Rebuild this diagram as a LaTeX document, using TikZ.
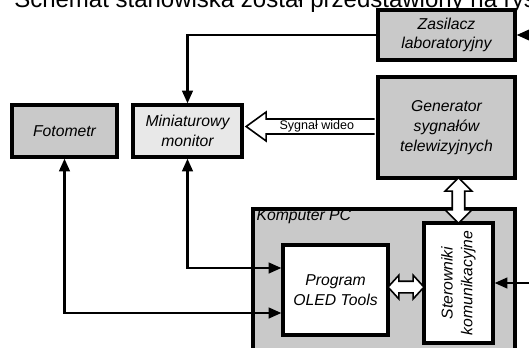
\documentclass[tikz,border=0pt]{standalone}
\usepackage{fontspec}
\setmainfont{Liberation Sans}
\usetikzlibrary{shapes.arrows,arrows.meta,calc,positioning}
\definecolor{blok}{gray}{0.79}
\definecolor{jasny}{gray}{0.91}

\begin{document}
\begin{tikzpicture}[x=0.75pt,y=-0.75pt,
	box/.style={
		draw,
		line width=2.5pt,
		fill=blok,
		inner sep=0pt,
		align=center,
		font=\fontsize{11.8}{14.8}\selectfont\itshape
	},
	conn/.style={
		line width=1.6pt,
		-{Triangle[length=9.5pt,width=8pt]}
	},
	hollow/.style={
		draw,
		fill=white,
		line width=1.2pt
	}
	]
	\useasboundingbox (0,0) rectangle (529,347);
	\clip (0,0) rectangle (529,347);

	\node[anchor=base west,inner sep=0pt,font=\fontsize{18}{20}\selectfont] (tytul) at (14,7)
	{Schemat stanowiska został przedstawiony na rysunku};

	\node[box,minimum width=102.75pt,minimum height=37.5pt] (zas) at (446.5,35)
	{Zasilacz\\laboratoryjny};
	\node[box,minimum width=102.75pt,minimum height=75.75pt] (gen) at (446.5,127.5)
	{Generator\\sygnałów\\telewizyjnych};
	\node[box,minimum width=78.75pt,minimum height=39pt] (foto) at (64.5,131)
	{Fotometr};
	\node[box,fill=jasny,minimum width=81.75pt,minimum height=39pt] (mon) at (187.5,131)
	{Miniaturowy\\monitor};

	\node[box,minimum width=196.5pt,minimum height=120pt] (komp) at (384,289) {};
	\node[anchor=base west,inner sep=0pt,font=\fontsize{11.8}{14.8}\selectfont\itshape] (komplbl)
	at ($(komp.north west)+(5,13)$) {Komputer PC};
	\node[box,fill=white,minimum width=78.75pt,minimum height=67.5pt] (prog) at (335.5,290)
	{Program\\OLED Tools};
	\node[box,fill=white,minimum width=51.75pt,minimum height=90pt] (ster) at (458.5,283) {};
	\node[rotate=90,align=center,inner sep=0pt,font=\fontsize{11.8}{14.8}\selectfont\itshape] (sterlbl)
	at (ster.center) {Sterowniki\\komunikacyjne};

	\coordinate (wtip) at ($(mon.east)+(2.5,-4.5)$);
	\coordinate (wtail) at ($(gen.west |- wtip)+(-1.6,0)$);
	\path[hollow,draw=none] ($(wtail)+(0,-7.5)$) -- ($(wtip)+(20,-7.5)$) -- ($(wtip)+(20,-14.5)$)
		-- (wtip) -- ($(wtip)+(20,14.5)$) -- ($(wtip)+(20,7.5)$) -- ($(wtail)+(0,7.5)$) -- cycle;
	\draw[line width=1.2pt,line join=miter] ($(wtail)+(0,-7.5)$) -- ($(wtip)+(20,-7.5)$) -- ($(wtip)+(20,-14.5)$)
		-- (wtip) -- ($(wtip)+(20,14.5)$) -- ($(wtip)+(20,7.5)$) -- ($(wtail)+(0,7.5)$);
	\node[inner sep=0pt,font=\fontsize{9.4}{11}\selectfont] (wideo)
	at ($(wtip)!0.55!(wtail)$) {Sygnał wideo};

	\node[hollow,double arrow,shape border rotate=90,inner sep=4.1pt,
		double arrow head extend=5.25pt,double arrow tip angle=90,
		minimum height=34pt] (genster)
	at ($(ster.north)!0.5!(ster.north|-gen.south)$) {};
	\node[hollow,double arrow,inner sep=3.8pt,
		double arrow head extend=4.5pt,double arrow tip angle=95,
		minimum height=27pt,yshift=2.2pt] (progster)
	at ($(prog.east)!0.5!(prog.east-|ster.west)$) {};

	\coordinate (zasin) at (545,35);
	\coordinate (sterin) at (545,283);
	\coordinate (progin1) at ($(prog.west)+(0,-22)$);
	\coordinate (progin2) at ($(prog.west)+(0,23)$);

	\draw[conn] (zasin) -- (zas.east);
	\draw[conn] (sterin) -- (ster.east);
	\draw[conn] (zas.west) -| (mon.north);
	\draw[conn,{Triangle[length=9.5pt,width=8pt]}-{Triangle[length=9.5pt,width=8pt]}] (mon.south) |- (progin1);
	\draw[conn,{Triangle[length=9.5pt,width=8pt]}-{Triangle[length=9.5pt,width=8pt]}] (foto.south) |- (progin2);
\end{tikzpicture}
\end{document}
